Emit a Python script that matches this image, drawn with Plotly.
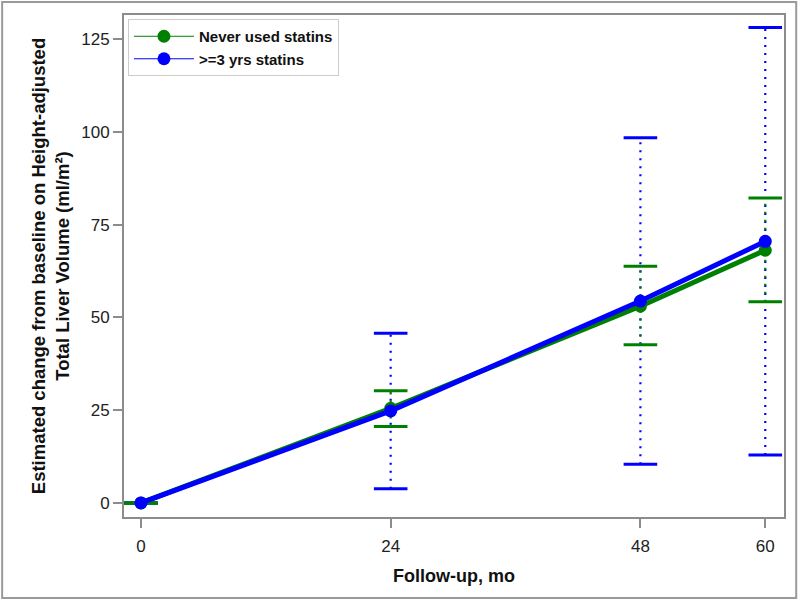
import plotly.graph_objects as go

# follow-up months
months = [0, 24, 48, 60]

# Never used statins
never_est = [0, 25.5, 53.0, 68.1]
never_lo = [0, 20.6, 42.6, 54.2]
never_hi = [0, 30.2, 63.8, 82.2]

# >=3 yrs statins
statin_est = [0, 24.8, 54.4, 70.5]
statin_lo = [0, 3.8, 10.4, 12.9]
statin_hi = [0, 45.7, 98.4, 128.1]

GREEN = "#008000"
BLUE = "#0000ff"
FONT = "Liberation Sans, Arial, sans-serif"


def ci_segments(x, lo, hi):
    xs, ys = [], []
    for a, b, c in zip(x, lo, hi):
        xs += [a, a, None]
        ys += [b, c, None]
    return xs, ys


fig = go.Figure()

# confidence intervals: dotted stems + solid caps
for lo, hi, col in [(statin_lo, statin_hi, BLUE), (never_lo, never_hi, GREEN)]:
    sx, sy = ci_segments(months, lo, hi)
    fig.add_trace(go.Scatter(
        x=sx, y=sy, mode="lines", showlegend=False, hoverinfo="skip",
        line=dict(color=col, width=2.2, dash="2px,6px"),
    ))
    fig.add_trace(go.Scatter(
        x=months + months, y=lo + hi, mode="markers", showlegend=False,
        hoverinfo="skip",
        marker=dict(symbol="line-ew", size=24, line=dict(color=col, width=3)),
    ))

# estimates
for est, col, name in [(never_est, GREEN, "Never used statins"),
                       (statin_est, BLUE, ">=3 yrs statins")]:
    fig.add_trace(go.Scatter(
        x=months, y=est, mode="lines+markers", showlegend=False, name=name,
        line=dict(color=col, width=5),
        marker=dict(size=13, color=col),
    ))

# legend entries (thin line like the original)
for col, name in [(GREEN, "Never used statins"), (BLUE, ">=3 yrs statins")]:
    fig.add_trace(go.Scatter(
        x=[None], y=[None], mode="lines+markers", name=name,
        line=dict(color=col, width=1), marker=dict(size=13, color=col),
    ))

axis_common = dict(
    showline=True, linecolor="#8c8c8c", linewidth=2, mirror=True,
    ticks="outside", ticklen=9, tickwidth=1.5, tickcolor="#8c8c8c",
    showgrid=False, zeroline=False,
    tickfont=dict(family=FONT, size=17, color="#222"),
)

fig.update_xaxes(
    range=[-1.63, 61.8], tickvals=months, ticktext=[str(m) for m in months],
    ticklabelstandoff=4,
    title=dict(text="<b>Follow-up, mo</b>", standoff=14,
               font=dict(family=FONT, size=18, color="#111")),
    **axis_common,
)
fig.update_yaxes(
    range=[-3.8, 131.5], tickvals=[0, 25, 50, 75, 100, 125],
    title=dict(text="<b>Estimated change from baseline on Height-adjusted<br>"
                    "Total Liver Volume (ml/m²)</b>", standoff=7,
               font=dict(family=FONT, size=18.5, color="#111")),
    **axis_common,
)

fig.update_layout(
    width=800, height=601,
    template="plotly_white",
    paper_bgcolor="white", plot_bgcolor="white",
    margin=dict(l=124, r=16, t=15, b=84),
    font=dict(family=FONT, size=14, color="#111"),
    legend=dict(
        x=0.006, y=0.992, xanchor="left", yanchor="top",
        bgcolor="white", bordercolor="#cccccc", borderwidth=1,
        font=dict(family=FONT, size=15, color="#111", weight="bold"),
        itemwidth=60, tracegroupgap=0,
    ),
    shapes=[dict(
        type="rect", xref="paper", yref="paper",
        x0=-0.1846, x1=1.0185, y0=-0.1614, y1=1.0259,
        line=dict(color="#9a9a9a", width=2), layer="below",
    )],
)

fig.write_html("out.html", config={"displayModeBar": False},
               post_script="document.body.style.margin='0';")
